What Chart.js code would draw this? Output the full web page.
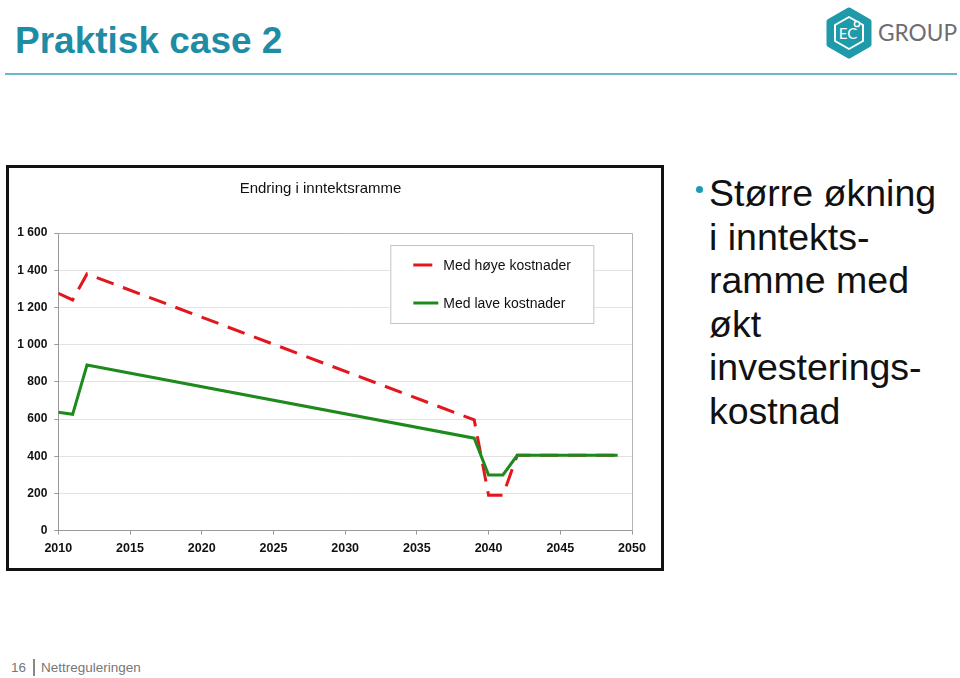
<!DOCTYPE html>
<html>
<head>
<meta charset="utf-8">
<script src="https://cdn.jsdelivr.net/npm/chart.js@4"></script>
<style>
  html, body { margin: 0; padding: 0; background: #fff; }
  body { width: 960px; height: 678px; position: relative; overflow: hidden; font-family: 'Liberation Sans', Arial, sans-serif; }
  #title { position: absolute; left: 15px; top: 21px; font-size: 37px; font-weight: bold; color: #1f8ca6; line-height: 40px; white-space: nowrap; }
  #rule { position: absolute; left: 5px; top: 73px; width: 952px; height: 2px; background: #6bb9c6; }
  #logo { position: absolute; left: 822px; top: 6px; }
  #box { position: absolute; left: 6px; top: 165px; width: 652px; height: 400px; border: 3px solid #111; }
  #wrap { position: absolute; left: 0; top: 0; width: 652px; height: 400px; }
  #bullet { position: absolute; left: 696px; top: 186px; width: 7px; height: 7px; border-radius: 50%; background: #1a9bb0; }
  #side { position: absolute; left: 709px; top: 172px; font-size: 37.5px; line-height: 43.5px; color: #111; white-space: nowrap; }
  #footer { position: absolute; left: 11px; top: 659px; font-size: 13.5px; color: #777; line-height: 18px; white-space: nowrap; }
  #footer .bar { display: inline-block; width: 2px; height: 17px; background: #888; vertical-align: -4px; margin: 0 6px 0 7px; }
</style>
</head>
<body>
<div id="title">Praktisk case 2</div>
<div id="rule"></div>
<svg id="logo" width="138" height="54" viewBox="0 0 138 54">
  <polygon points="27,4 47,15.5 47,38.5 27,50 7,38.5 7,15.5" fill="#1f9aaa" stroke="#1f9aaa" stroke-width="5" stroke-linejoin="round"/>
  <polygon points="27,11 41,19 41,35 27,43 13,35 13,19" fill="none" stroke="#fff" stroke-width="2" stroke-linejoin="round"/>
  <text x="26" y="33" font-family="Lato, 'Open Sans', sans-serif" font-size="15" fill="#fff" text-anchor="middle">EC</text>
  <circle cx="35" cy="18" r="2.6" fill="#1f9aaa" stroke="#fff" stroke-width="1.5"/>
  <text x="56" y="35" font-family="Lato, 'Open Sans', sans-serif" font-size="23" fill="#6d6e71" textLength="79" lengthAdjust="spacingAndGlyphs">GROUP</text>
</svg>
<div id="box"><div id="wrap"><canvas id="c"></canvas></div></div>
<div id="bullet"></div>
<div id="side">Større økning<br>i inntekts-<br>ramme med<br>økt<br>investerings-<br>kostnad</div>
<div id="footer">16<span class="bar"></span>Nettreguleringen</div>

<script>
// ---- data ----
const chartTitle = 'Endring i inntektsramme';
const seriesNames = ['Med høye kostnader', 'Med lave kostnader'];
const years = [2010, 2011, 2012, 2039, 2040, 2041, 2042, 2049];
const highCost = [1276, 1240, 1380, 595, 190, 190, 405, 405];
const lowCost = [636, 625, 890, 497, 299, 299, 405, 405];
const yTicks = [0, 200, 400, 600, 800, 1000, 1200, 1400, 1600];
const xTicks = [2010, 2015, 2020, 2025, 2030, 2035, 2040, 2045, 2050];

const FONT = "'Liberation Sans', Arial, sans-serif";
const RED = '#e2161c';
const GREEN = '#1e8a1e';

const toPoints = (xs, ys) => xs.map((x, i) => ({ x: x, y: ys[i] }));

const frameAndLegend = {
  id: 'frameAndLegend',
  beforeDatasetsDraw(chart) {
    const { ctx, chartArea: a } = chart;
    ctx.save();
    ctx.strokeStyle = '#b4b4b4';
    ctx.lineWidth = 1;
    ctx.beginPath();
    ctx.moveTo(a.left, a.top + 0.5);
    ctx.lineTo(a.right + 0.5, a.top + 0.5);
    ctx.lineTo(a.right + 0.5, a.bottom);
    ctx.stroke();
    ctx.restore();
  },
  afterDraw(chart) {
    const { ctx, chartArea: a } = chart;
    const ds = chart.data.datasets;
    const bx = a.left + 332, by = a.top + 12, bw = 203, bh = 78;
    ctx.save();
    ctx.fillStyle = '#fff';
    ctx.fillRect(bx, by, bw, bh);
    ctx.strokeStyle = '#c4c4c4';
    ctx.lineWidth = 1;
    ctx.strokeRect(bx + 0.5, by + 0.5, bw, bh);
    const rows = [
      { d: ds[0], y: by + 20, len: 19 },
      { d: ds[1], y: by + 58, len: 25 }
    ];
    rows.forEach(r => {
      ctx.strokeStyle = r.d.borderColor;
      ctx.lineWidth = 3;
      ctx.setLineDash([]);
      ctx.beginPath();
      ctx.moveTo(bx + 23, r.y);
      ctx.lineTo(bx + 23 + r.len, r.y);
      ctx.stroke();
      ctx.fillStyle = '#111';
      ctx.font = '14px ' + FONT;
      ctx.textBaseline = 'middle';
      ctx.fillText(r.d.label, bx + 53, r.y + 1);
    });
    ctx.restore();
  }
};

new Chart(document.getElementById('c'), {
  type: 'line',
  data: {
    datasets: [
      {
        label: seriesNames[0],
        data: toPoints(years, highCost),
        borderColor: RED,
        borderWidth: 3,
        borderDash: [18, 10],
        pointRadius: 0,
        tension: 0,
        order: 1
      },
      {
        label: seriesNames[1],
        data: toPoints(years, lowCost),
        borderColor: GREEN,
        borderWidth: 3,
        pointRadius: 0,
        tension: 0,
        order: 0
      }
    ]
  },
  options: {
    responsive: true,
    maintainAspectRatio: false,
    animation: false,
    layout: { padding: { left: 0, right: 29, top: 0, bottom: 0 } },
    plugins: {
      legend: { display: false },
      tooltip: { enabled: false },
      title: {
        display: true,
        text: chartTitle,
        color: '#111',
        font: { family: FONT, size: 15, weight: 'normal' },
        padding: { top: 12, bottom: 35 }
      }
    },
    scales: {
      x: {
        type: 'linear',
        min: xTicks[0],
        max: xTicks[xTicks.length - 1],
        afterBuildTicks: s => { s.ticks = xTicks.map(v => ({ value: v })); },
        afterFit: s => { s.height = 37.4; },
        ticks: {
          color: '#111',
          font: { family: FONT, size: 12.5, weight: 'bold' },
          padding: 6,
          maxRotation: 0,
          autoSkip: false,
          callback: v => String(v)
        },
        grid: { drawOnChartArea: false, drawTicks: true, tickLength: 4, tickColor: '#999' },
        border: { color: '#999', width: 1 }
      },
      y: {
        min: yTicks[0],
        max: yTicks[yTicks.length - 1],
        afterBuildTicks: s => { s.ticks = yTicks.map(v => ({ value: v })); },
        afterFit: s => { s.width = 49.3; },
        ticks: {
          color: '#111',
          font: { family: FONT, size: 12, weight: 'bold' },
          padding: 7,
          callback: v => String(v).replace(/\B(?=(\d{3})+(?!\d))/g, ' ')
        },
        grid: { color: '#e2e2e2', drawTicks: true, tickLength: 4, tickColor: '#999' },
        border: { color: '#999', width: 1 }
      }
    }
  },
  plugins: [frameAndLegend]
});
</script>
</body>
</html>
